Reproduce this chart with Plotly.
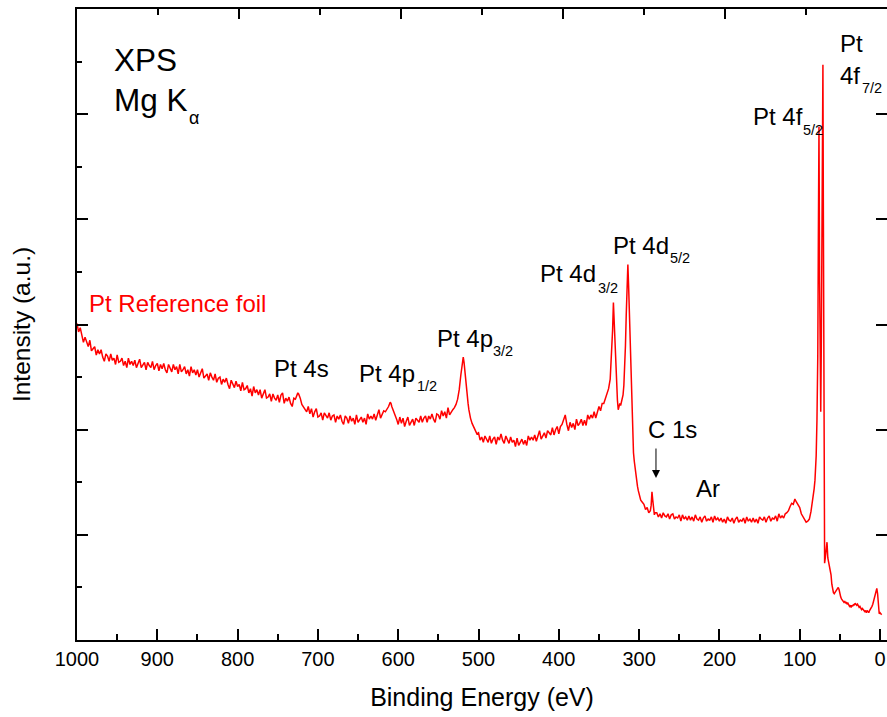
import plotly.graph_objects as go

# ---- XPS survey spectrum of a Pt reference foil (Mg K-alpha), intensity in arbitrary units ----
# evenly sampled background stretches (2 eV step) and finely sampled peak regions

# 1000 -> 760 eV, 2 eV step
bg_high_be = list(range(1000, 759, -2))
bg_high_i = [
    3.01, 2.93, 2.97, 2.89, 2.83, 2.88, 2.84, 2.79, 2.85, 2.75,
    2.77, 2.79, 2.71, 2.76, 2.72, 2.76, 2.69, 2.65, 2.72, 2.70,
    2.65, 2.72, 2.66, 2.68, 2.62, 2.71, 2.64, 2.65, 2.68, 2.61,
    2.65, 2.59, 2.68, 2.62, 2.65, 2.61, 2.66, 2.59, 2.63, 2.67,
    2.59, 2.61, 2.64, 2.57, 2.64, 2.61, 2.59, 2.65, 2.57, 2.61,
    2.63, 2.56, 2.62, 2.58, 2.63, 2.57, 2.54, 2.62, 2.59, 2.55,
    2.62, 2.57, 2.60, 2.53, 2.62, 2.55, 2.57, 2.60, 2.53, 2.57,
    2.51, 2.60, 2.54, 2.57, 2.52, 2.57, 2.50, 2.54, 2.58, 2.49,
    2.51, 2.53, 2.47, 2.54, 2.50, 2.47, 2.53, 2.45, 2.49, 2.50,
    2.43, 2.48, 2.45, 2.49, 2.43, 2.39, 2.47, 2.44, 2.40, 2.46,
    2.41, 2.43, 2.37, 2.45, 2.38, 2.39, 2.42, 2.35, 2.39, 2.32,
    2.41, 2.35, 2.38, 2.33, 2.38, 2.30, 2.35, 2.38, 2.30, 2.31,
    2.34,
]

# 758 -> 728 eV
bg_4s_be = list(range(758, 727, -2))
bg_4s_i = [2.27, 2.34, 2.30, 2.28, 2.33, 2.26, 2.33, 2.35, 2.25, 2.30,
           2.27, 2.31, 2.25, 2.22, 2.30, 2.29]

# Pt 4s
pk_4s_be = [726, 725, 724, 722, 720, 718, 716]
pk_4s_i = [2.33, 2.35, 2.34, 2.30, 2.24, 2.22, 2.20]

# 714 -> 616 eV
bg_mid_be = list(range(714, 615, -2))
bg_mid_i = [
    2.17, 2.22, 2.15, 2.20, 2.12, 2.17, 2.20, 2.12, 2.13, 2.16,
    2.09, 2.16, 2.13, 2.11, 2.16, 2.09, 2.13, 2.14, 2.07, 2.13,
    2.10, 2.14, 2.08, 2.05, 2.13, 2.11, 2.06, 2.13, 2.08, 2.11,
    2.05, 2.14, 2.07, 2.09, 2.12, 2.07, 2.11, 2.05, 2.15, 2.10,
    2.13, 2.10, 2.15, 2.09, 2.14, 2.19, 2.11, 2.14, 2.18, 2.17,
]

# Pt 4p1/2
pk_4p1_be = [614, 612, 610, 609, 608, 606, 604, 602]
pk_4p1_i = [2.19, 2.22, 2.26, 2.25, 2.22, 2.17, 2.14, 2.10]

# 600 -> 534 eV
bg_4p_be = list(range(600, 533, -2))
bg_4p_i = [
    2.05, 2.12, 2.06, 2.11, 2.03, 2.08, 2.12, 2.04, 2.07, 2.10,
    2.04, 2.11, 2.09, 2.07, 2.13, 2.07, 2.11, 2.13, 2.07, 2.13,
    2.10, 2.15, 2.10, 2.07, 2.15, 2.14, 2.10, 2.18, 2.13, 2.17,
    2.11, 2.21, 2.14, 2.17,
]

# Pt 4p3/2
pk_4p3_be = [532, 530, 528, 526, 524, 522, 520, 519, 518, 517, 516,
             515, 514, 513, 512, 511, 510, 508, 506, 504, 502]
pk_4p3_i = [2.19, 2.21, 2.24, 2.29, 2.38, 2.52, 2.66, 2.69, 2.64, 2.55, 2.45,
            2.36, 2.30, 2.25, 2.19, 2.14, 2.11, 2.06, 2.02, 1.99, 1.96]

# 500 -> 396 eV
bg_low_be = list(range(500, 395, -2))
bg_low_i = [
    1.97, 1.90, 1.93, 1.88, 1.94, 1.91, 1.88, 1.94, 1.87, 1.91,
    1.93, 1.86, 1.93, 1.90, 1.96, 1.90, 1.87, 1.94, 1.91, 1.87,
    1.93, 1.88, 1.90, 1.84, 1.92, 1.85, 1.88, 1.91, 1.86, 1.90,
    1.85, 1.94, 1.90, 1.93, 1.90, 1.95, 1.89, 1.94, 1.99, 1.91,
    1.94, 1.97, 1.92, 1.99, 1.97, 1.95, 2.02, 1.95, 2.00, 2.03,
    1.96, 2.03, 2.05,
]

# small feature near 392 eV
pk_392_be = [394, 392, 390]
pk_392_i = [2.09, 2.14, 2.05]

# 388 -> 346 eV
bg_4d_be = list(range(388, 345, -2))
bg_4d_i = [
    1.99, 2.07, 2.02, 2.06, 2.00, 2.10, 2.04, 2.06, 2.10, 2.04,
    2.09, 2.04, 2.14, 2.10, 2.14, 2.11, 2.17, 2.11, 2.18, 2.22,
    2.18, 2.25,
]

# Pt 4d3/2, Pt 4d5/2 and C 1s
pk_4d_be = [344, 342, 340, 338, 336, 334, 333, 332, 331, 330, 329, 328, 327, 326,
            325, 324, 323, 322, 321, 320, 319, 318, 317, 316, 315, 314, 313, 312,
            311, 310, 309, 308, 307, 306, 305, 304, 303, 302, 301, 300,
            298, 296, 294, 292, 290, 288, 286, 285, 284, 283, 282, 281, 280]
pk_4d_i = [2.25, 2.30, 2.34, 2.39, 2.48, 2.72, 2.95, 3.21, 3.00, 2.78, 2.60, 2.42, 2.28, 2.19,
           2.22, 2.25, 2.23, 2.27, 2.30, 2.33, 2.42, 2.58, 2.80, 3.10, 3.40, 3.57, 3.35, 3.05,
           2.80, 2.55, 2.25, 1.85, 1.78, 1.70, 1.63, 1.57, 1.50, 1.46, 1.42, 1.38,
           1.33, 1.31, 1.29, 1.24, 1.26, 1.21, 1.23, 1.28, 1.41, 1.33, 1.22, 1.19, 1.21]

# 278 -> 118 eV
bg_flat_be = list(range(278, 117, -2))
bg_flat_i = [
    1.21, 1.17, 1.20, 1.16, 1.21, 1.18, 1.17, 1.20, 1.15, 1.19,
    1.20, 1.15, 1.17, 1.16, 1.19, 1.13, 1.19, 1.15, 1.17, 1.14,
    1.18, 1.14, 1.17, 1.13, 1.19, 1.15, 1.14, 1.17, 1.12, 1.16,
    1.18, 1.13, 1.15, 1.14, 1.17, 1.12, 1.18, 1.14, 1.16, 1.13,
    1.16, 1.12, 1.15, 1.11, 1.17, 1.14, 1.13, 1.16, 1.11, 1.15,
    1.17, 1.12, 1.14, 1.13, 1.16, 1.11, 1.17, 1.13, 1.15, 1.12,
    1.16, 1.12, 1.15, 1.11, 1.17, 1.15, 1.14, 1.17, 1.12, 1.16,
    1.18, 1.13, 1.16, 1.15, 1.18, 1.13, 1.20, 1.16, 1.18, 1.16,
    1.20,
]

# loss feature and Pt 4f doublet
pk_4f_be = [116, 114, 112, 110, 108, 106, 104, 102, 100, 98, 96, 94, 92, 90, 88, 86, 84, 82,
            81, 80, 79.5, 78.5, 77.5, 76.8, 76.0, 75.2, 74.4, 73.8, 73.0, 72.3,
            71.6, 71.1, 70.5, 70.0, 69.5]
pk_4f_i = [1.21, 1.23, 1.27, 1.30, 1.29, 1.34, 1.31, 1.29, 1.26, 1.20, 1.17, 1.15, 1.12, 1.13,
           1.15, 1.22, 1.32, 1.44, 1.52, 1.62, 1.75, 2.10, 2.70, 3.80, 4.88, 3.40, 2.60, 2.17,
           2.90, 4.00, 5.00, 5.47, 4.00, 2.20, 0.95]

# 69 -> -2 eV, 1 eV step (valence region)
val_be = list(range(69, -3, -1))
val_i = [
    0.73, 0.79, 0.86, 0.93, 0.78, 0.74, 0.72, 0.69, 0.62, 0.53,
    0.48, 0.45, 0.44, 0.45, 0.46, 0.47, 0.49, 0.50, 0.48, 0.43,
    0.41, 0.39, 0.38, 0.37, 0.36, 0.37, 0.35, 0.36, 0.34, 0.35,
    0.33, 0.32, 0.33, 0.31, 0.33, 0.32, 0.34, 0.33, 0.35, 0.34,
    0.33, 0.34, 0.32, 0.31, 0.32, 0.30, 0.29, 0.30, 0.28, 0.28,
    0.27, 0.28, 0.26, 0.28, 0.27, 0.26, 0.28, 0.29, 0.30, 0.32,
    0.34, 0.37, 0.41, 0.45, 0.48, 0.49, 0.44, 0.33, 0.25, 0.26,
    0.25, 0.24,
]

segments = [
    (bg_high_be, bg_high_i), (bg_4s_be, bg_4s_i), (pk_4s_be, pk_4s_i),
    (bg_mid_be, bg_mid_i), (pk_4p1_be, pk_4p1_i), (bg_4p_be, bg_4p_i),
    (pk_4p3_be, pk_4p3_i), (bg_low_be, bg_low_i), (pk_392_be, pk_392_i),
    (bg_4d_be, bg_4d_i), (pk_4d_be, pk_4d_i), (bg_flat_be, bg_flat_i),
    (pk_4f_be, pk_4f_i), (val_be, val_i),
]
binding_energy, intensity = [], []
for be, inten in segments:
    assert len(be) == len(inten)
    binding_energy += be
    intensity += inten

# peak labels: (text, subscript, x [eV], y, subscript x [eV], subscript y)
peak_labels = [
    ("Pt 4s", "", 756.0, 2.58, None, None),
    ("Pt 4p", "1/2", 650.0, 2.533, 577.8, 2.416),
    ("Pt 4p", "3/2", 552.9, 2.866, 483.2, 2.749),
    ("Pt 4d", "3/2", 424.7, 3.484, 352.4, 3.348),
    ("Pt 4d", "5/2", 333.8, 3.750, 262.8, 3.633),
    ("Pt 4f", "5/2", 159.4, 4.977, 97.1, 4.850),
    ("Pt", "", 51.1, 5.671, None, None),
    ("4f", "7/2", 51.1, 5.367, 23.7, 5.250),
    ("C 1s", "", 290.2, 2.0, None, None),
    ("Ar", "", 230.4, 1.44, None, None),
]

FONT = "Arial, Liberation Sans, sans-serif"
RED = "#ff0000"

fig = go.Figure()
fig.add_trace(go.Scatter(
    x=binding_energy, y=intensity, mode="lines",
    line=dict(color=RED, width=1.5), showlegend=False, hoverinfo="skip",
))
# invisible trace carrying the top / right frame axes
fig.add_trace(go.Scatter(x=[1000], y=[0], xaxis="x2", yaxis="y2",
                         mode="markers", marker=dict(opacity=0),
                         showlegend=False, hoverinfo="skip"))

annotations = []
for text, sub, x, y, sx, sy in peak_labels:
    annotations.append(dict(x=x, y=y, xref="x", yref="y", text=text, showarrow=False,
                            xanchor="left", yanchor="middle", borderpad=0,
                            font=dict(family=FONT, size=24, color="black")))
    if sub:
        annotations.append(dict(x=sx, y=sy, xref="x", yref="y", text=sub, showarrow=False,
                                xanchor="left", yanchor="middle", borderpad=0,
                                font=dict(family=FONT, size=14.5, color="black")))

# arrow pointing at the C 1s peak
annotations.append(dict(x=279, y=1.54, ax=279, ay=1.835, xref="x", yref="y",
                        axref="x", ayref="y", text="", showarrow=True,
                        arrowhead=2, arrowsize=1.6, arrowwidth=1, arrowcolor="black"))

# technique / source / sample labels
annotations += [
    dict(x=0.0444, y=0.919, xref="paper", yref="paper", text="XPS", showarrow=False,
         xanchor="left", yanchor="middle", borderpad=0,
         font=dict(family=FONT, size=31.5, color="black")),
    dict(x=0.0444, y=0.856, xref="paper", yref="paper", text="Mg K", showarrow=False,
         xanchor="left", yanchor="middle", borderpad=0,
         font=dict(family=FONT, size=31.5, color="black")),
    dict(x=0.137, y=0.828, xref="paper", yref="paper", text="α", showarrow=False,
         xanchor="left", yanchor="middle", borderpad=0,
         font=dict(family=FONT, size=18, color="black")),
    dict(x=0.0136, y=0.533, xref="paper", yref="paper", text="Pt Reference foil",
         showarrow=False, xanchor="left", yanchor="middle", borderpad=0,
         font=dict(family=FONT, size=24, color=RED)),
]

fig.update_layout(
    width=887, height=717,
    margin=dict(l=77, r=0, t=9, b=77, autoexpand=False),
    paper_bgcolor="white", plot_bgcolor="white",
    font=dict(family=FONT, color="black"),
    annotations=annotations,
    xaxis=dict(
        range=[1000, -8.7], showgrid=False, zeroline=False,
        showline=True, linecolor="black", linewidth=2,
        ticks="inside", ticklen=11, tickwidth=2, tickcolor="black",
        tick0=0, dtick=100, tickfont=dict(family=FONT, size=20),
        minor=dict(ticks="inside", ticklen=6, tickwidth=2, dtick=50, tickcolor="black"),
        title=dict(text="Binding Energy (eV)", font=dict(family=FONT, size=25), standoff=19),
    ),
    xaxis2=dict(
        range=[1000, 0], overlaying="x", side="top", showgrid=False, zeroline=False,
        showline=True, linecolor="black", linewidth=2,
        ticks="inside", ticklen=10, tickwidth=2, tickcolor="black",
        tick0=0, dtick=200, showticklabels=False,
        minor=dict(ticks="inside", ticklen=6, tickwidth=2, dtick=100, tickcolor="black"),
    ),
    yaxis=dict(
        range=[0, 6], showgrid=False, zeroline=False,
        showline=True, linecolor="black", linewidth=2,
        ticks="inside", ticklen=11, tickwidth=2, tickcolor="black",
        tick0=0, dtick=1, showticklabels=False,
        minor=dict(ticks="inside", ticklen=5, tickwidth=2, dtick=0.5, tickcolor="black"),
        title=dict(text="Intensity (a.u.)", font=dict(family=FONT, size=24.5), standoff=37),
    ),
    yaxis2=dict(
        range=[0, 6], overlaying="y", side="right", showgrid=False, zeroline=False,
        showline=False, ticks="inside", ticklen=11, tickwidth=2, tickcolor="black",
        tick0=0, dtick=1, showticklabels=False,
    ),
)

fig.write_html("out.html")
